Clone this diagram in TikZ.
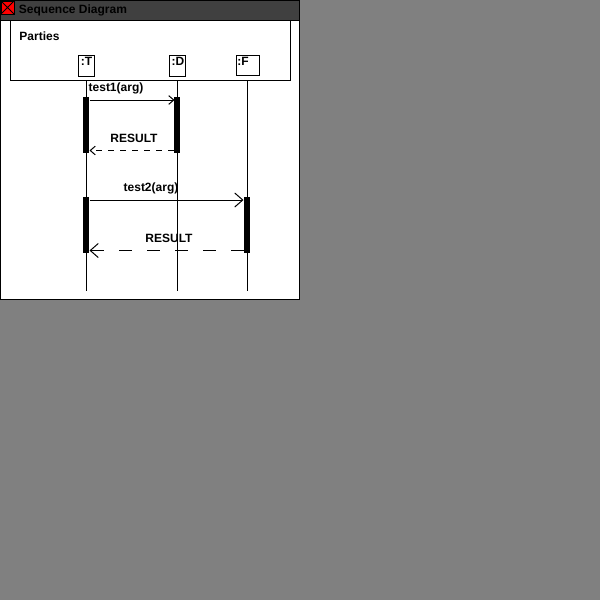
\documentclass[tikz,border=0pt]{standalone}
\usepackage{fontspec}
\setmainfont{Liberation Sans}
\usetikzlibrary{arrows.meta}
\definecolor{titlegray}{HTML}{404040}
\definecolor{pagegray}{HTML}{808080}
\tikzset{
	label/.style={font=\fontsize{9}{11}\selectfont\bfseries,inner sep=0pt},
	party/.style={shape=rectangle,draw,fill=white,inner sep=0pt,minimum height=15.75pt},
	bar/.style={shape=rectangle,fill=black,inner sep=0pt,minimum width=4.5pt,minimum height=41.625pt},
	msga/.style={-{Straight Barb[length=3.75pt,width=6.5pt]}},
	msgb/.style={-{Straight Barb[length=6pt,width=10.5pt]}},
}
\begin{document}
\begin{tikzpicture}[x=0.75pt,y=-0.75pt,line width=0.75pt]
	\useasboundingbox [fill=pagegray] (0,0) rectangle (600,600);
	\draw (149.5,149.5) node (window) [shape=rectangle,draw,fill=white,minimum size=224.25pt] {};
	\draw (149.5,10) node (title) [shape=rectangle,draw,fill=titlegray,minimum width=224.25pt,minimum height=15pt] {};
	\draw (7.5,7.5) node (icon) [shape=rectangle,draw,fill=red,minimum size=9.75pt,inner sep=0pt,
		path picture={\draw (path picture bounding box.north west) -- (path picture bounding box.south east)
			(path picture bounding box.south west) -- (path picture bounding box.north east);}] {};
	\draw (73,10) node (titletext) [label] {Sequence Diagram};
	\draw (39.5,36) node (partiestext) [label] {Parties};
	\draw (150,50) node (parties) [shape=rectangle,draw,minimum width=210pt,minimum height=45pt] {};
	\draw (86,65.5) node (tbox) [party,minimum width=12pt] {};
	\draw (177,65.5) node (dbox) [party,minimum width=12pt] {};
	\draw (247.5,65) node (fbox) [party,minimum width=17.25pt,minimum height=15pt] {};
	\draw (86.5,61.5) node (tname) [label] {:T};
	\draw (178,61.5) node (dname) [label] {:D};
	\draw (243,61.5) node (fname) [label] {:F};
	\foreach \i/\x in {t/86.5,d/177.5,f/247.5} {
		\coordinate (\i top) at (\x,80);
		\coordinate (\i end) at (\x,290.5);
		\draw (\i top) -- (\i end);
	}
	\draw (86,124.75) node (tbara) [bar] {};
	\draw (177,124.75) node (dbara) [bar] {};
	\draw (86,224.75) node (tbarb) [bar] {};
	\draw (247,224.75) node (fbarb) [bar] {};
	\draw [msga] ([yshift=-2.625pt]tbara.north east) -- ([xshift=0.75pt,yshift=-2.625pt]dbara.north west);
	\draw [msga,dash pattern=on 4.5pt off 4.5pt] ([yshift=1.875pt]dbara.south west) -- ([yshift=1.875pt]tbara.south east);
	\draw [msgb] ([yshift=-2.625pt]tbarb.north east) -- ([yshift=-2.625pt]fbarb.north west);
	\draw [msgb,dash pattern=on 9.75pt off 11.25pt] ([yshift=1.875pt]fbarb.south west) -- ([yshift=1.875pt]tbarb.south east);
	\draw (116,88.5) node (testa) [label] {test1(arg)};
	\draw (134,138.5) node (resulta) [label] {RESULT};
	\draw (151,188.5) node (testb) [label] {test2(arg)};
	\draw (169,238.5) node (resultb) [label] {RESULT};
\end{tikzpicture}
\end{document}
